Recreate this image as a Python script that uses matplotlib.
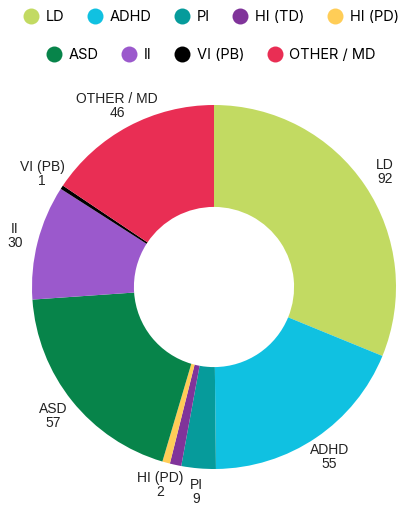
import matplotlib.pyplot as plt
from matplotlib.lines import Line2D

# data
labels = ['LD', 'ADHD', 'PI', 'HI (TD)', 'HI (PD)', 'ASD', 'II', 'VI (PB)', 'OTHER / MD']
values = [92, 55, 9, 3, 2, 57, 30, 1, 46]
colors = ['#c2da62', '#10c1e1', '#069b9b', '#80349a', '#ffcd57',
          '#07844a', '#9b59cc', '#000000', '#e92e54']
show_label = [True, True, True, False, True, True, True, True, True]

fig = plt.figure(figsize=(4.02, 5.07), dpi=100)
ax = fig.add_axes([0, 0, 1, 1])

# pie geometry in pixels
cx, cy, R = 214, 287, 182
W, H = 402, 507

slice_labels = [f'{l}\n{v}' if s else '' for l, v, s in zip(labels, values, show_label)]
wedges, texts = ax.pie(values, colors=colors, startangle=90, counterclock=False,
                       labels=slice_labels, labeldistance=1.13,
                       wedgeprops=dict(width=0.56, linewidth=0),
                       textprops=dict(family=['Liberation Sans', 'DejaVu Sans'],
                                      fontsize=10, color='#222222'))
for t in texts:
    t.set_ha('center')
    t.set_va('center')
    t.set_linespacing(1.0)

ax.set_xlim(-cx / R, (W - cx) / R)
ax.set_ylim(-(H - cy) / R, cy / R)
ax.axis('off')

def handles(idx):
    return [Line2D([], [], marker='o', linestyle='', markersize=11.5,
                   markerfacecolor=colors[i], markeredgewidth=0, label=labels[i])
            for i in idx]

leg_kw = dict(frameon=False, handletextpad=0.2, columnspacing=1.3, handlelength=1.6,
              prop={'family': ['Inter', 'DejaVu Sans'], 'size': 10.5}, borderaxespad=0)
fig.legend(handles=handles(range(5)), ncol=5, loc='center',
           bbox_to_anchor=(0.52, 1 - 17 / H), **leg_kw)
fig.legend(handles=handles(range(5, 9)), ncol=4, loc='center',
           bbox_to_anchor=(0.52, 1 - 55 / H), **leg_kw)

fig.savefig('out.png', dpi=100)
